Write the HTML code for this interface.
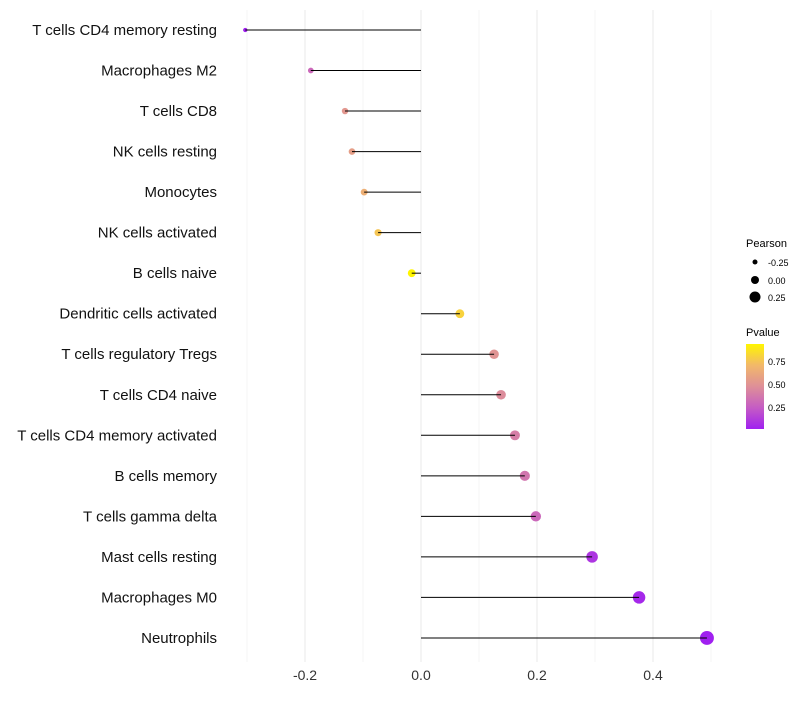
<!DOCTYPE html>
<html><head><meta charset="utf-8"><style>
body{margin:0;background:#fff;font-family:"Liberation Sans",sans-serif;}
</style></head><body>
<svg id="chart" width="800" height="700" xmlns="http://www.w3.org/2000/svg">
<defs><linearGradient id="pg" x1="0" y1="1" x2="0" y2="0">
<stop offset="0" stop-color="#A020F0"/><stop offset="0.25" stop-color="#C55CC4"/><stop offset="0.5" stop-color="#DE8F98"/><stop offset="0.75" stop-color="#F2B86A"/><stop offset="1" stop-color="#FFF500"/></linearGradient></defs>
<g id="grid"></g><g id="dots"></g><g id="marks"></g><g id="labels"></g>
<g font-size="10">
<text x="746" y="247" font-size="11">Pearson</text>
<circle cx="755" cy="262" r="2.5" fill="#000"/><text x="768" y="266" font-size="9">-0.25</text>
<circle cx="755" cy="280" r="4" fill="#000"/><text x="768" y="284" font-size="9">0.00</text>
<circle cx="755" cy="297" r="5.5" fill="#000"/><text x="768" y="301" font-size="9">0.25</text>
</g>
<g>
<text x="746" y="336" font-size="11">Pvalue</text>
<rect x="746" y="344" width="18" height="85" fill="url(#pg)"/>
<text x="768" y="365" font-size="9">0.75</text>
<text x="768" y="388" font-size="9">0.50</text>
<text x="768" y="411" font-size="9">0.25</text>
</g>
</svg>
<script>
const categories=["T cells CD4 memory resting","Macrophages M2","T cells CD8","NK cells resting","Monocytes","NK cells activated","B cells naive","Dendritic cells activated","T cells regulatory  Tregs","T cells CD4 naive","T cells CD4 memory activated","B cells memory","T cells gamma delta","Mast cells resting","Macrophages M0","Neutrophils"];
const pearson=[-0.303,-0.19,-0.131,-0.119,-0.098,-0.074,-0.016,0.067,0.126,0.138,0.162,0.179,0.198,0.295,0.376,0.493];
const pvalue=[0.02,0.3,0.52,0.56,0.65,0.75,0.95,0.8,0.5,0.46,0.4,0.36,0.3,0.1,0.05,0.01];
const xTicks=[-0.2,0,0.2,0.4];
const NS="http://www.w3.org/2000/svg";
const x=v=>421+v*580;
const y=i=>30+i*40.53;
const stops=[[0,[160,32,240]],[0.25,[197,92,196]],[0.5,[222,143,152]],[0.75,[242,184,106]],[1,[255,245,0]]];
function col(p){let t=(p-0.02)/(0.93-0.02);t=Math.max(0,Math.min(1,t));for(let k=1;k<stops.length;k++){if(t<=stops[k][0]){const a=stops[k-1],b=stops[k];const f=(t-a[0])/(b[0]-a[0]);const c=a[1].map((v,j)=>Math.round(v+(b[1][j]-v)*f));return`rgb(${c})`;}}return"rgb(255,245,0)";}
function mk(t,a,p){const e=document.createElementNS(NS,t);for(const k in a)e.setAttribute(k,a[k]);p.appendChild(e);return e;}
const G=document.getElementById('grid'),D=document.getElementById('dots'),M=document.getElementById('marks'),L=document.getElementById('labels');
for(let v=-0.3;v<=0.51;v+=0.1){const g=mk('line',{x1:x(v),x2:x(v),y1:10,y2:662,stroke:'#efefef','stroke-width':Math.abs(Math.round(v*10))%2==0?1.3:0.6},G);

}
xTicks.forEach(v=>{const t=mk('text',{x:x(v),y:680,'text-anchor':'middle','font-size':14,fill:'#333'},L);t.textContent=v===0?'0.0':v.toFixed(1);

});
categories.forEach((c,i)=>{
const d=mk('circle',{cx:x(pearson[i]),cy:y(i),r:4+6*pearson[i],fill:col(pvalue[i])},D);


const s=mk('line',{x1:x(0),x2:x(pearson[i]),y1:y(i),y2:y(i),stroke:'#000','stroke-width':1},M);


const t=mk('text',{x:217,y:y(i)+5,'text-anchor':'end','font-size':15,fill:'#111'},L);t.textContent=c;
t.setAttribute('xml:space','preserve');


});
</script>
</body></html>
